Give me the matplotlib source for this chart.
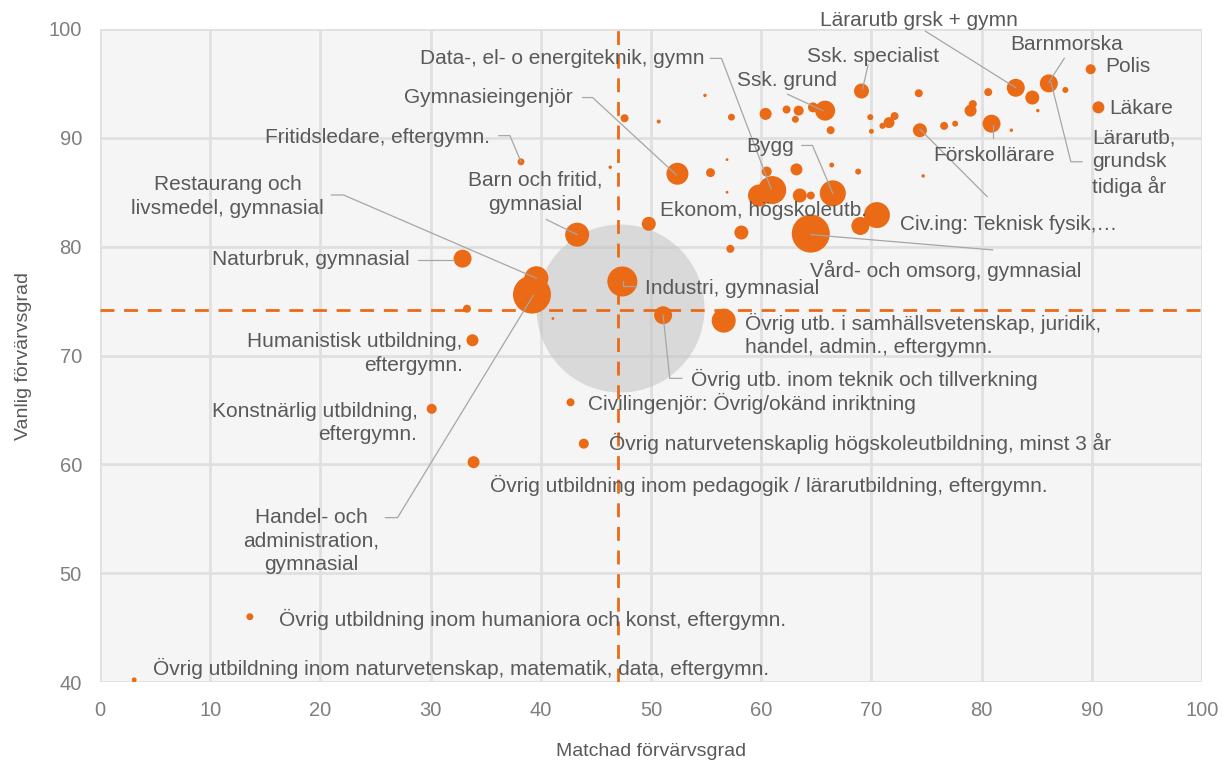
import matplotlib.pyplot as plt
import numpy as np

plt.rcParams['font.family'] = ['Liberation Sans', 'DejaVu Sans']

# Matchad och vanlig förvärvsgrad per utbildningsgrupp, storlek = antal (relativ)
matchad = [83.1, 86.1, 89.9, 90.6, 69.1, 65.8, 80.9, 74.4, 61.0, 52.4,
           38.2, 43.3, 39.6, 32.9, 39.2, 47.4, 49.8, 64.5, 66.5, 56.6,
           51.1, 42.7, 43.9, 33.9, 33.8, 30.1, 13.6, 3.1,
           54.9, 47.6, 50.7, 57.3, 60.4, 62.3, 63.4, 63.1, 64.7, 66.3,
           69.9, 70.0, 71.0, 71.6, 72.1, 74.3, 76.6, 77.6, 79.0, 79.2,
           80.6, 84.6, 87.6, 85.1, 82.7, 46.3, 55.4, 56.9, 56.9, 60.5,
           63.2, 66.4, 68.8, 74.7, 59.8, 63.5, 64.5, 58.2, 57.2, 70.5,
           69.0, 33.3, 41.1]
vanlig = [94.6, 95.0, 96.3, 92.8, 94.3, 92.5, 91.3, 90.7, 85.2, 86.7,
          87.8, 81.1, 77.1, 78.9, 75.6, 76.8, 82.1, 81.2, 84.9, 73.2,
          73.7, 65.7, 61.9, 60.2, 71.4, 65.1, 46.0, 40.2,
          93.9, 91.8, 91.5, 91.9, 92.2, 92.6, 92.5, 91.7, 92.8, 90.7,
          91.9, 90.6, 91.1, 91.4, 92.0, 94.1, 91.1, 91.3, 92.5, 93.1,
          94.2, 93.7, 94.4, 92.5, 90.7, 87.3, 86.8, 88.0, 85.0, 86.9,
          87.1, 87.5, 86.9, 86.5, 84.7, 84.7, 84.7, 81.3, 79.8, 82.9,
          81.9, 74.3, 73.4]
antal = [81, 81, 25, 36, 56, 100, 81, 49, 196, 121,
         12, 144, 144, 81, 361, 225, 49, 361, 169, 144,
         81, 16, 25, 36, 36, 25, 12, 6,
         3, 16, 4, 12, 36, 16, 25, 12, 25, 16,
         9, 6, 9, 30, 16, 16, 16, 9, 36, 16,
         16, 49, 9, 3, 3, 3, 20, 2, 2, 25,
         36, 6, 9, 3, 121, 49, 16, 49, 16, 169,
         81, 16, 2]

# Totalt (grå bubbla) och medelvärden (streckade linjer)
total_matchad = 47.2
total_vanlig = 74.4
total_antal = 7056
medel_matchad = 47.0
medel_vanlig = 74.2

orange = '#EA6A16'
textfarg = '#595959'
linjefarg = '#a6a6a6'

fig = plt.figure(figsize=(12.24, 7.6), dpi=100)
ax = fig.add_axes([100 / 1224, 1 - 682 / 760, 1102 / 1224, 653 / 760])
ax.set_facecolor('#f5f5f5')

# storlek i punkter^2: radie i pixlar = sqrt(antal)
def storlek(a):
    return (2 * np.sqrt(np.array(a, dtype=float)) * 0.72) ** 2

ax.scatter([total_matchad], [total_vanlig], s=storlek([total_antal]),
           color='#bfbfbf', alpha=0.5, linewidths=0, zorder=2)
ax.axvline(medel_matchad, color=orange, lw=2, ls=(0, (5, 3.5)), zorder=3)
ax.axhline(medel_vanlig, color=orange, lw=2, ls=(0, (5, 3.5)), zorder=3)
ax.scatter(matchad, vanlig, s=storlek(antal), color=orange, linewidths=0, zorder=4)

ax.set_xlim(0, 100)
ax.set_ylim(40, 100)
ax.set_xticks(range(0, 101, 10))
ax.set_yticks(range(40, 101, 10))
ax.grid(True, color='#e0e0e0', lw=2, zorder=0)
ax.set_axisbelow(True)
for s in ax.spines.values():
    s.set_visible(False)
ax.tick_params(length=0, colors='#7f7f7f', labelsize=14.5)
ax.tick_params(axis='y', pad=13)
ax.tick_params(axis='x', pad=14)
ax.set_xlabel('Matchad förvärvsgrad', color=textfarg, fontsize=14, labelpad=16)
ax.set_ylabel('Vanlig förvärvsgrad', color=textfarg, fontsize=14, labelpad=12)

# etiketter: (text, x, y, ha, ledarlinje)
etiketter = [
    ('Lärarutb grsk + gymn', 74.3, 100.8, 'center', [(74.9, 99.8), (83.1, 94.6)]),
    ('Barnmorska', 87.7, 98.6, 'center', [(87.5, 97.3), (86.1, 95.1)]),
    ('Polis', 91.2, 96.6, 'left', None),
    ('Läkare', 91.6, 92.7, 'left', None),
    ('Lärarutb,\ngrundsk\ntidiga år', 90.0, 87.7, 'left',
     [(86.3, 95.1), (88.1, 87.8), (89.1, 87.8)]),
    ('Ssk. specialist', 70.1, 97.5, 'center', [(69.7, 96.7), (69.2, 94.5)]),
    ('Ssk. grund', 62.3, 95.3, 'center', [(62.4, 94.0), (65.6, 92.5)]),
    ('Förskollärare', 81.1, 88.4, 'center', [(81.0, 91.2), (81.0, 90.0)]),
    ('Civ.ing: Teknisk fysik,…', 72.6, 82.0, 'left', [(74.4, 90.8), (80.5, 84.6)]),
    ('Data-, el- o energiteknik, gymn', 54.9, 97.3, 'right',
     [(55.4, 97.3), (56.4, 97.3), (60.9, 85.3)]),
    ('Gymnasieingenjör', 42.9, 93.7, 'right',
     [(43.8, 93.7), (44.7, 93.7), (52.3, 86.6)]),
    ('Fritidsledare, eftergymn.', 35.4, 90.0, 'right',
     [(36.2, 90.2), (37.2, 90.2), (38.2, 87.8)]),
    ('Barn och fritid,\ngymnasial', 39.5, 85.0, 'center', [(40.5, 82.5), (43.3, 81.1)]),
    ('Restaurang och\nlivsmedel, gymnasial', 11.6, 84.6, 'center',
     [(21.0, 84.75), (22.1, 84.75), (39.6, 77.1)]),
    ('Naturbruk, gymnasial', 28.1, 78.8, 'right', [(28.9, 78.8), (32.1, 78.8)]),
    ('Handel- och\nadministration,\ngymnasial', 19.2, 53.0, 'center',
     [(25.9, 55.1), (27.0, 55.1), (39.3, 75.5)]),
    ('Industri, gymnasial', 49.5, 76.2, 'left',
     [(47.5, 76.8), (47.5, 76.4), (48.6, 76.4)]),
    ('Ekonom, högskoleutb.', 50.8, 83.3, 'left', None),
    ('Vård- och omsorg, gymnasial', 64.4, 77.8, 'left', [(64.5, 81.1), (81.0, 79.7)]),
    ('Bygg', 60.8, 89.2, 'center', [(63.7, 89.3), (64.65, 89.3), (66.5, 84.9)]),
    ('Övrig utb. i samhällsvetenskap, juridik,\nhandel, admin., eftergymn.', 58.5, 71.9,
     'left', None),
    ('Övrig utb. inom teknik och tillverkning', 53.6, 67.8, 'left',
     [(51.1, 73.7), (51.7, 67.9), (52.8, 67.9)]),
    ('Civilingenjör: Övrig/okänd inriktning', 44.3, 65.6, 'left', None),
    ('Övrig naturvetenskaplig högskoleutbildning, minst 3 år', 46.2, 61.9, 'left', None),
    ('Övrig utbildning inom pedagogik / lärarutbildning, eftergymn.', 35.4, 58.1,
     'left', None),
    ('Humanistisk utbildning,\neftergymn.', 32.9, 70.2, 'right', None),
    ('Konstnärlig utbildning,\neftergymn.', 28.8, 63.8, 'right', None),
    ('Övrig utbildning inom humaniora och konst, eftergymn.', 16.2, 45.7, 'left', None),
    ('Övrig utbildning inom naturvetenskap, matematik, data, eftergymn.', 4.8, 41.2,
     'left', None),
]

for text, tx, ty, ha, linje in etiketter:
    if linje:
        lx = [p[0] for p in linje]
        ly = [p[1] for p in linje]
        ax.plot(lx, ly, color=linjefarg, lw=0.9, zorder=5, clip_on=False)
    ax.text(tx, ty, text, ha=ha, va='center', color=textfarg, fontsize=15,
            linespacing=1.3, zorder=6, clip_on=False)

fig.savefig('out.png', dpi=100)
